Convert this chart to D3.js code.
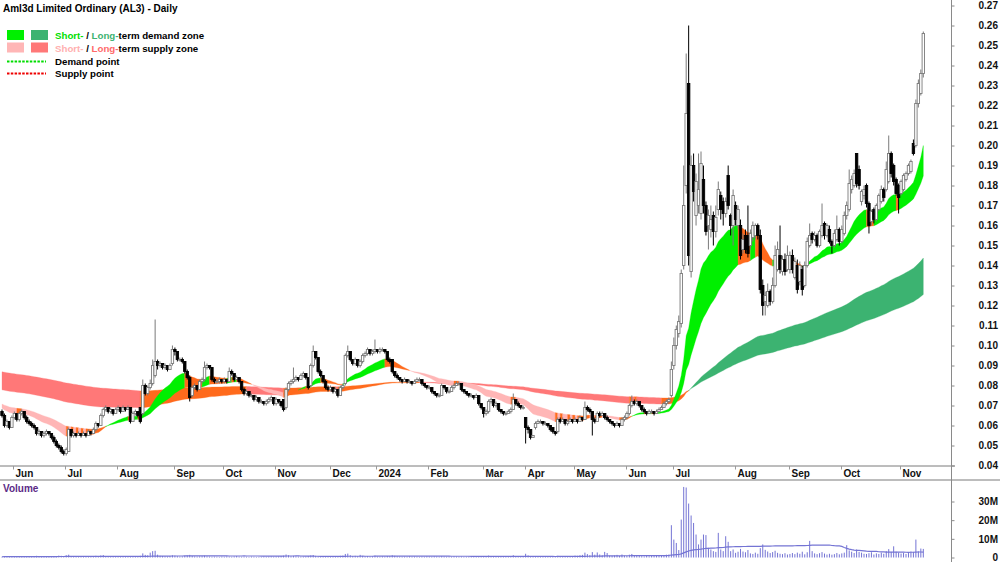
<!DOCTYPE html>
<html>
<head>
<meta charset="utf-8">
<script src="https://cdn.jsdelivr.net/npm/d3@7/dist/d3.min.js"></script>
<style>
	body { margin: 0; background: #fff; }
	svg text { font-family: "Liberation Sans", Arial, sans-serif; font-weight: bold; }
</style>
</head>
<body>
<div id="content"></div>
<script>

// x axis: month label and the bar index where that month starts
var monthLabels = ["Jun", "Jul", "Aug", "Sep", "Oct", "Nov", "Dec", "2024", "Feb", "Mar", "Apr", "May", "Jun", "Jul", "Aug", "Sep", "Oct", "Nov"];
var monthStarts = [5, 26, 47, 70, 90, 111, 133, 152, 173, 195, 212, 232, 253, 272, 297, 319, 340, 364];

var priceTicks = [0.04, 0.05, 0.06, 0.07, 0.08, 0.09, 0.10, 0.11, 0.12, 0.13, 0.14, 0.15, 0.16, 0.17, 0.18, 0.19, 0.20, 0.21, 0.22, 0.23, 0.24, 0.25, 0.26, 0.27];
var volumeTicks = [0, 10, 20, 30];
var volumeTickLabels = ["0", "10M", "20M", "30M"];

// daily prices, in tenths of a cent
var opens = [
	67,65,60,62,59,64,66,63,66,67, 64,62,61,60,59,56,57,55,56,57,
	56,54,52,50,49,47,46,47,58,55, 56,55,56,55,56,55,57,56,58,61,
	60,65,68,69,67,68,66,68,69,67, 69,68,69,62,66,67,69,66,80,76,
	79,81,85,92,90,91,89,90,88,91, 98,97,93,93,92,87,84,75,79,80,
	78,82,83,89,90,89,83,82,82,83, 82,83,82,87,86,83,84,82,78,76,
	77,75,75,73,74,72,72,71,72,73, 74,71,73,72,73,69,78,81,82,83,
	84,83,85,86,84,80,90,97,94,87, 85,82,79,78,79,77,78,75,79,81,
	95,97,93,91,93,90,92,95,96,98, 96,97,98,97,98,98,97,93,93,87,
	85,84,83,82,83,82,82,81,82,83, 83,81,80,79,79,77,76,75,75,80,
	79,77,77,79,80,81,81,78,77,76, 75,75,74,75,71,69,66,67,72,73,
	70,71,68,67,66,66,67,68,73,71, 70,69,64,59,58,54,59,61,62,62,
	61,61,60,59,57,57,63,62,63,61, 62,63,62,63,62,64,63,69,68,67,
	63,62,66,65,66,64,63,62,61,60, 61,60,63,64,66,70,72,71,72,70,
	68,67,66,67,67,66,67,68,69,71, 72,75,90,100,106,111,140,180,231,137,
	190,165,170,166,183,170,160,158,165,157, 168,175,172,166,185,165,160,170,160,160,
	148,155,155,150,154,155,160,155,130,122, 120,127,122,130,138,145,137,143,138,138,
	145,134,140,132,138,130,140,150,156,153, 155,150,155,161,155,158,152,150,153,158,
	152,156,165,168,178,180,196,188,172,175, 180,171,162,168,163,168,172,178,178,182,
	196,190,183,180,176,178,183,186,187,201, 200,221,226,236
];
var highs = [
	68,66,63,62,65,67,66,67,68,67, 65,63,62,61,59,58,57,57,58,57,
	56,55,53,51,50,48,49,59,58,57, 56,57,56,57,56,58,57,59,62,61,
	66,69,70,69,69,68,69,70,69,70, 69,70,69,67,68,67,69,83,81,80,
	83,93,113,93,92,91,91,90,91,100, 99,97,94,94,92,88,85,80,81,80,
	83,84,92,91,90,89,84,83,84,83, 84,83,89,88,86,85,84,82,79,78,
	77,76,75,75,74,73,72,73,74,75, 74,74,73,72,73,79,82,83,89,85,
	84,86,87,86,84,91,100,97,94,88, 85,83,80,80,79,79,78,80,81,96,
	100,97,93,94,93,93,96,97,99,98, 98,103,98,99,99,98,97,94,93,87,
	86,84,83,84,83,83,82,83,84,84, 83,81,80,80,79,77,76,76,81,80,
	79,78,80,81,82,82,81,78,77,76, 76,75,76,75,71,69,68,73,74,73,
	72,71,68,67,67,68,69,76,73,72, 70,70,64,60,58,55,62,63,63,62,
	62,61,60,59,57,64,64,64,63,63, 64,63,64,63,65,64,72,70,69,67,
	64,67,67,67,66,65,63,62,61,62, 61,64,65,67,71,75,73,73,72,70,
	69,67,68,68,67,68,69,70,72,73, 74,92,104,110,115,138,190,246,260,195,
	196,186,196,197,190,172,168,170,167,170, 182,177,174,174,190,166,178,172,170,163,
	156,158,170,158,162,161,161,158,133,127, 131,128,134,150,152,160,145,146,150,147,
	148,144,143,142,140,142,154,161,157,157, 156,158,171,162,161,160,153,158,165,159,
	160,167,172,188,185,188,196,190,178,180, 181,172,168,169,171,176,180,179,192,205,
	197,191,184,181,183,186,187,191,193,203, 223,233,238,257
];
var lows = [
	64,59,59,58,59,63,62,62,65,63, 61,60,59,58,55,55,54,54,55,55,
	53,51,49,48,46,45,45,47,54,54, 54,55,54,55,54,55,55,56,57,59,
	60,64,67,66,66,65,66,67,66,67, 67,68,61,62,65,64,61,65,75,75,
	78,80,84,88,89,88,88,87,88,90, 95,92,92,91,86,83,72,74,78,77,
	78,81,82,88,88,82,81,81,81,81, 81,81,82,85,82,83,81,77,75,75,
	74,74,72,72,71,71,70,70,71,72, 70,70,71,69,67,68,77,80,81,82,
	82,83,84,83,78,79,89,93,86,84, 81,78,77,77,76,76,74,75,78,80,
	94,92,90,90,89,89,91,94,95,95, 95,96,96,96,97,96,92,91,86,84,
	83,82,81,82,81,81,80,81,82,82, 80,79,78,78,76,75,74,74,75,78,
	76,76,77,78,80,80,77,76,75,74, 74,73,74,70,68,64,65,66,71,69,
	69,67,66,65,65,66,66,68,70,69, 68,68,51,56,53,54,58,61,61,60,
	60,59,57,56,55,56,61,62,60,60, 62,61,62,61,62,62,63,67,66,55,
	61,62,64,65,63,62,61,60,59,60, 59,60,62,63,65,69,70,70,69,67,
	66,65,66,66,65,66,67,68,69,70, 71,74,88,98,104,109,138,176,140,134,
	172,160,166,163,166,155,148,154,150,154, 165,163,160,164,168,155,150,160,158,143,
	146,146,144,148,152,153,153,126,115,115, 119,120,121,129,137,136,135,135,137,136,
	136,133,126,130,125,129,139,149,151,152, 149,149,154,153,154,151,146,149,152,150,
	151,155,163,167,176,179,179,178,170,173, 169,156,160,161,162,167,171,172,177,181,
	184,180,175,166,175,177,182,185,186,195, 199,219,225,234
];
var closes = [
	65,60,62,59,64,66,63,66,67,64, 62,61,60,59,56,57,55,56,57,56,
	54,52,50,49,47,46,48,58,55,56, 55,56,55,56,55,57,56,58,61,60,
	65,68,69,67,68,66,68,69,67,69, 68,69,62,66,67,65,62,80,76,79,
	81,90,92,90,91,89,90,88,90,98, 97,93,93,92,87,84,74,79,80,78,
	82,83,89,90,89,83,82,82,83,82, 83,82,87,86,83,84,82,78,76,77,
	75,75,73,74,72,72,71,72,73,74, 71,73,72,70,68,78,81,82,83,84,
	83,85,86,84,79,90,97,94,87,85, 82,79,78,79,77,78,75,79,80,95,
	97,93,91,93,90,92,95,96,98,96, 97,98,97,98,98,97,93,92,87,85,
	84,83,82,83,82,82,81,82,83,83, 81,80,79,79,77,76,75,75,80,79,
	77,77,79,80,81,81,78,77,76,75, 75,74,75,71,69,66,67,72,73,70,
	71,68,67,66,66,67,68,73,71,70, 69,69,59,58,54,55,61,62,62,61,
	61,60,58,57,56,63,62,63,61,62, 63,62,63,62,64,63,69,68,67,63,
	62,66,65,66,64,63,62,61,60,61, 60,63,64,66,70,72,71,72,70,68,
	67,66,67,67,66,67,68,69,71,72, 73,88,100,108,112,136,170,216,145,190,
	177,182,178,191,170,157,165,163,157,164, 178,168,166,172,170,160,175,163,168,145,
	153,148,146,156,160,160,155,128,120,125, 127,122,130,145,148,138,143,137,145,145,
	138,142,128,140,128,140,152,155,153,155, 150,157,160,155,160,152,150,156,158,152,
	158,165,170,181,183,186,181,180,177,178, 171,160,167,163,170,175,178,174,188,196,
	186,182,176,174,182,185,186,190,192,196, 221,231,236,256
];

// daily volume, millions of shares
var volumes = [
	0.4,0.6,0.3,0.5,0.8,0.4,0.3,0.5,0.6,0.3, 0.4,0.7,0.5,0.3,0.9,0.4,0.3,0.5,0.4,0.6,
	0.5,0.8,0.6,1.0,0.9,0.7,1.2,1.5,0.6,0.4, 0.3,0.5,0.4,0.3,0.6,0.4,0.5,0.7,0.9,0.6,
	1.1,1.3,0.8,0.5,0.6,0.4,0.5,0.6,0.4,0.5, 0.3,0.4,0.8,0.5,0.4,0.6,0.9,2.2,1.4,1.2,
	2.6,3.4,3.6,1.5,0.9,0.8,0.6,0.5,0.7,1.2, 1.0,0.7,0.5,0.6,0.9,1.1,1.4,0.8,0.6,0.5,
	0.6,0.7,1.0,0.6,0.5,0.4,0.5,0.4,0.3,0.5, 0.4,0.6,0.5,0.4,0.6,0.8,0.5,0.4,0.5,0.4,
	0.3,0.5,0.4,0.3,0.4,0.3,0.5,0.4,0.5,0.6, 0.4,0.5,0.6,0.8,1.0,1.6,1.2,0.7,0.9,0.6,
	0.5,0.6,0.4,0.5,0.8,1.1,1.3,0.9,0.7,0.5, 0.6,0.4,0.5,0.4,0.6,0.5,0.7,0.9,1.0,1.9,
	2.1,1.2,0.8,0.9,0.7,1.4,0.8,0.6,0.7,0.5, 0.6,1.0,0.5,0.4,0.6,0.5,0.8,0.7,1.2,0.9,
	0.6,0.5,0.4,0.5,0.4,0.6,0.4,0.5,0.4,0.3, 0.5,0.4,0.6,0.5,0.4,0.6,0.5,0.4,0.7,0.5,
	0.4,0.5,0.4,0.6,0.5,0.4,0.5,0.3,0.4,0.5, 0.4,0.5,0.4,0.6,0.7,0.8,0.5,1.0,0.7,0.5,
	0.4,0.6,0.5,0.4,0.5,0.4,0.6,1.2,0.8,0.5, 0.4,0.5,2.0,1.1,0.7,0.4,0.6,0.5,0.4,0.5,
	0.4,0.3,0.5,0.6,0.5,0.9,0.6,0.5,0.4,0.6, 0.7,0.8,1.0,0.9,1.2,1.4,2.6,1.8,1.3,2.9,
	1.5,2.7,1.6,1.2,3.0,2.4,1.0,0.9,1.1,1.4, 0.8,1.6,1.0,0.8,1.5,1.9,1.2,0.8,0.9,0.7,
	0.6,0.8,0.7,0.9,0.8,0.9,1.1,1.0,1.3,1.5, 1.6,17.3,9.6,7.8,4.0,20.3,37.8,37.5,28.9,22.5,
	18.5,12.3,7.0,9.6,12.3,12.0,5.2,4.3,3.4,3.0, 13.2,4.3,3.4,11.4,8.4,3.4,4.3,2.5,3.1,4.6,
	3.2,2.8,4.0,2.2,1.9,2.6,2.0,5.0,7.0,4.1, 3.2,2.4,2.9,3.6,2.5,2.0,1.8,2.3,1.6,1.9,
	2.4,1.8,2.6,2.0,3.1,1.7,2.8,8.9,3.4,2.2, 1.8,2.3,2.9,2.1,1.6,2.0,1.5,1.8,2.4,1.7,
	2.2,2.6,6.6,3.8,3.1,2.4,4.3,3.0,2.6,2.0, 1.9,2.3,2.8,1.6,2.2,1.9,2.6,2.0,3.4,4.5,
	3.0,6.0,3.1,2.6,2.1,2.5,1.9,2.4,3.2,3.0, 9.6,3.3,4.8,4.6
];

// trend ribbons: EMA periods (short fast, short slow, long fast, long slow)
// and their levels at the left edge of the chart
var ribbonPeriods = [20, 40, 150, 250];
var ribbonStart = [0.069, 0.071, 0.078, 0.087];
var volumeAvgPeriod = 65;

var shortColors = { demand: "#00f000", supply: "#ffb6b6", neutral: "#ff6a1c" };
var longColors = { demand: "#3cb371", supply: "#ff7878", neutral: "#ff6a1c" };

function main() {
	var svg = initSVG();
	var n = closes.length;

	var x = d3.scaleLinear().domain([0, n - 1]).range([2, 923.3]);
	var y = d3.scaleLinear().domain([0.04, 0.27]).range([465.5, 5.5]);
	var yVol = d3.scaleLinear().domain([0, 30]).range([557.5, 501.5]);

	var o = opens.map(function (v) { return v / 1000; });
	var h = highs.map(function (v) { return v / 1000; });
	var l = lows.map(function (v) { return v / 1000; });
	var c = closes.map(function (v) { return v / 1000; });

	var shortFast = ema(c, ribbonPeriods[0], ribbonStart[0]);
	var shortSlow = ema(c, ribbonPeriods[1], ribbonStart[1]);
	var longFast = ema(c, ribbonPeriods[2], ribbonStart[2]);
	var longSlow = ema(c, ribbonPeriods[3], ribbonStart[3]);

	var price = svg.append("g");
	drawRibbon(price, x, y, longFast, longSlow, c, longColors);
	drawRibbon(price, x, y, shortFast, shortSlow, c, shortColors);
	drawCandles(price, x, y, o, h, l, c);

	drawAxes(svg, x, y, yVol);
	drawVolume(svg, x, yVol);
	drawLegend(svg);
}

function initSVG() {
	var svg = d3.select("#content")
		.append("svg")
		.attr("width", 1000)
		.attr("height", 562);
	return svg;
}

function ema(values, period, start) {
	var k = 2 / (period + 1);
	var prev = start;
	return values.map(function (v) {
		prev = prev + k * (v - prev);
		return prev;
	});
}

// colour each stretch of a ribbon by trend order and where the close sits
function drawRibbon(g, x, y, fast, slow, close, colors) {
	var runs = [];
	fast.forEach(function (f, i) {
		var s = slow[i];
		var state = "neutral";
		if (f >= s && close[i] >= f) state = "demand";
		else if (f < s && close[i] < f) state = "supply";

		var last = runs[runs.length - 1];
		if (last && last.state == state) {
			last.end = i;
		} else {
			runs.push({ state: state, start: Math.max(i - 1, 0), end: i });
		}
	});

	var area = d3.area()
		.x(function (i) { return x(i); })
		.y0(function (i) { return y(fast[i]); })
		.y1(function (i) { return y(slow[i]); });

	g.append("g").selectAll("path")
		.data(runs)
		.enter()
		.append("path")
		.attr("d", function (r) { return area(d3.range(r.start, r.end + 1)); })
		.attr("fill", function (r) { return colors[r.state]; })
		.attr("stroke", function (r) { return colors[r.state]; })
		.attr("stroke-width", 0.3);
}

function drawCandles(g, x, y, o, h, l, c) {
	var bars = g.append("g").selectAll("g")
		.data(d3.range(c.length))
		.enter()
		.append("g");

	bars.append("line")
		.attr("x1", function (i) { return x(i); })
		.attr("x2", function (i) { return x(i); })
		.attr("y1", function (i) { return y(h[i]); })
		.attr("y2", function (i) { return y(l[i]); })
		.attr("stroke", function (i) { return c[i] >= o[i] ? "#7a7a7a" : "#000"; })
		.attr("stroke-width", 1);

	bars.append("rect")
		.attr("x", function (i) { return x(i) - 1.2; })
		.attr("width", 2.4)
		.attr("y", function (i) { return y(Math.max(o[i], c[i])); })
		.attr("height", function (i) { return Math.max(0.8, Math.abs(y(o[i]) - y(c[i]))); })
		.attr("fill", function (i) { return c[i] >= o[i] ? "#fff" : "#000"; })
		.attr("stroke", function (i) { return c[i] >= o[i] ? "#7a7a7a" : "#000"; })
		.attr("stroke-width", 0.9);
}

function drawAxes(svg, x, y, yVol) {
	var axisX = 951.5;

	svg.append("line")
		.attr("x1", 0).attr("x2", 955)
		.attr("y1", 466).attr("y2", 466)
		.attr("stroke", "#7a7a7a");
	svg.append("line")
		.attr("x1", 0).attr("x2", 1000)
		.attr("y1", 480).attr("y2", 480)
		.attr("stroke", "#7a7a7a");
	svg.append("line")
		.attr("x1", axisX).attr("x2", axisX)
		.attr("y1", 0).attr("y2", 562)
		.attr("stroke", "#8a8a8a");

	// price axis
	var priceAxis = d3.axisRight(y)
		.tickValues(priceTicks)
		.tickFormat(d3.format(".2f"))
		.tickSize(3)
		.tickSizeOuter(0);
	var pa = svg.append("g")
		.attr("transform", "translate(" + axisX + ",0)")
		.call(priceAxis);
	styleAxis(pa);

	// volume axis
	var volAxis = d3.axisRight(yVol)
		.tickValues(volumeTicks)
		.tickFormat(function (d, i) { return volumeTickLabels[i]; })
		.tickSize(3)
		.tickSizeOuter(0);
	var va = svg.append("g")
		.attr("transform", "translate(" + axisX + ",0)")
		.call(volAxis);
	styleAxis(va);

	// month ticks and labels
	var months = svg.append("g").selectAll("g")
		.data(monthStarts)
		.enter()
		.append("g")
		.attr("transform", function (d) { return "translate(" + Math.round(x(d) - 1) + ",0)"; });
	months.append("line")
		.attr("x1", 0.5).attr("x2", 0.5)
		.attr("y1", 466).attr("y2", 469.5)
		.attr("stroke", "#9a9a9a");
	months.append("text")
		.attr("x", 2.5)
		.attr("y", 477)
		.attr("font-size", "10px")
		.attr("fill", "#111")
		.text(function (d, i) { return monthLabels[i]; });
}

function styleAxis(a) {
	a.select(".domain").remove();
	a.selectAll(".tick line").attr("stroke", "#8a8a8a");
	a.selectAll(".tick text")
		.attr("x", 46.5)
		.attr("text-anchor", "end")
		.attr("font-size", "10px")
		.attr("font-family", "Liberation Sans, Arial, sans-serif")
		.attr("font-weight", "bold")
		.attr("fill", "#111");
}

function drawVolume(svg, x, yVol) {
	var volColor = "#7474d4";

	svg.append("text")
		.attr("x", 3)
		.attr("y", 492)
		.attr("font-size", "10px")
		.attr("fill", "#5b2a86")
		.text("Volume");

	svg.append("g").selectAll("line")
		.data(volumes)
		.enter()
		.append("line")
		.attr("x1", function (d, i) { return x(i); })
		.attr("x2", function (d, i) { return x(i); })
		.attr("y1", yVol(0))
		.attr("y2", function (d) { return yVol(d); })
		.attr("stroke", volColor)
		.attr("stroke-width", 1);

	var avg = volumes.map(function (v, i) {
		return d3.mean(volumes.slice(Math.max(0, i - volumeAvgPeriod + 1), i + 1));
	});
	var line = d3.line()
		.x(function (d, i) { return x(i); })
		.y(function (d) { return yVol(d); });
	svg.append("path")
		.attr("d", line(avg))
		.attr("fill", "none")
		.attr("stroke", volColor)
		.attr("stroke-width", 1.2);
}

function drawLegend(svg) {
	svg.append("text")
		.attr("x", 3)
		.attr("y", 12)
		.attr("font-size", "10px")
		.attr("fill", "#000")
		.text("Aml3d Limited Ordinary (AL3) - Daily");

	var g = svg.append("g").attr("font-size", "9.7px");

	// zone boxes
	var rows = [
		{ y: 30, colors: [shortColors.demand, longColors.demand], label: "-term demand zone" },
		{ y: 42.5, colors: [shortColors.supply, longColors.supply], label: "-term supply zone" }
	];
	rows.forEach(function (r, k) {
		g.append("rect").attr("x", 7).attr("y", r.y).attr("width", 17).attr("height", 10).attr("fill", r.colors[0]);
		g.append("rect").attr("x", 31).attr("y", r.y).attr("width", 17).attr("height", 10).attr("fill", r.colors[1]);
		var t = g.append("text").attr("x", 55).attr("y", r.y + 9);
		t.append("tspan").attr("fill", k == 0 ? "#00e000" : "#ffb0b0").text("Short-");
		t.append("tspan").attr("fill", "#000").text(" / ");
		t.append("tspan").attr("fill", k == 0 ? "#3cb371" : "#ff6a6a").text("Long-");
		t.append("tspan").attr("fill", "#000").text(r.label.slice(1));
	});

	// demand / supply point keys
	var points = [
		{ y: 61.5, color: "#00dd00", label: "Demand point" },
		{ y: 73.5, color: "#ee0000", label: "Supply point" }
	];
	points.forEach(function (p) {
		g.append("line")
			.attr("x1", 7).attr("x2", 46)
			.attr("y1", p.y).attr("y2", p.y)
			.attr("stroke", p.color)
			.attr("stroke-width", 2)
			.attr("stroke-dasharray", "2.5,1.3");
		g.append("text")
			.attr("x", 55)
			.attr("y", p.y + 3.5)
			.attr("fill", "#000")
			.text(p.label);
	});
}

(() => {
	main();
})()
</script>
</body>
</html>
